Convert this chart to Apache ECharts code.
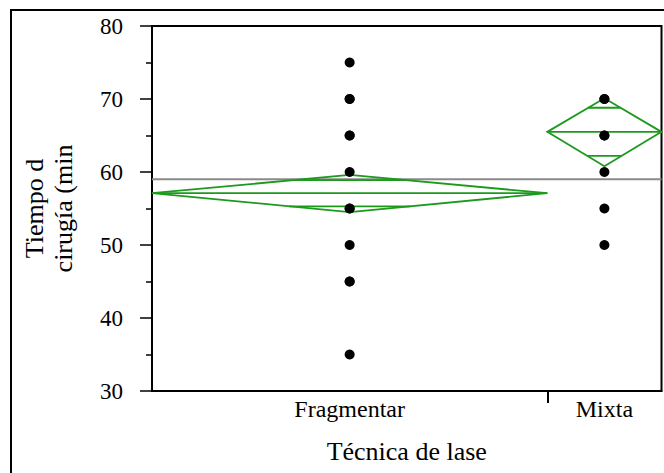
<!DOCTYPE html>
<html><head><meta charset="utf-8">
<script src="https://cdn.jsdelivr.net/npm/echarts@6/dist/echarts.min.js"></script>
<style>html,body{margin:0;padding:0;background:#fff}#c{width:664px;height:473px}</style>
</head><body><div id="c"></div>
<script>
// ---- data ----
const categories = ['Fragmentar', 'Mixta'];
const groupN = [45, 13];                       // sample sizes (set group widths)
const fragmentarValues = [75, 70, 70, 65, 65, 60, 55, 55, 50, 45, 45, 35];
const mixtaValues = [70, 70, 65, 65, 60, 55, 50];
const groupMeans = [57.1, 65.5];
const ciLower = [54.5, 60.8];
const ciUpper = [59.6, 70.1];
const overlapLower = [55.3, 62.2];
const overlapUpper = [58.9, 68.8];
const grandMean = 59.0;
const yTicks = [30, 40, 50, 60, 70, 80];
const xTitle = 'Técnica de lase';
const yTitle = 'Tiempo d\ncirugía (min';

// ---- derived layout (group bands proportional to n) ----
const total = groupN.reduce((a, b) => a + b, 0);
const starts = [], ends = [], centers = [];
let acc = 0;
groupN.forEach(n => { starts.push(acc); acc += n; ends.push(acc); centers.push((starts[starts.length-1] + acc) / 2); });
const boundaries = ends.slice(0, -1);
const groupValues = [fragmentarValues, mixtaValues];
const points = [];
groupValues.forEach((vals, i) => vals.forEach(v => points.push([centers[i], v])));
const diamonds = categories.map((c, i) => [starts[i], ends[i], groupMeans[i], ciLower[i], ciUpper[i], overlapLower[i], overlapUpper[i]]);

const SERIF = 'Liberation Serif';
const GREEN = '#1d9a1d';

const chart = echarts.init(document.getElementById('c'), null, { renderer: 'svg' });
chart.setOption({
  animation: false,
  backgroundColor: '#fff',
  textStyle: { fontFamily: SERIF, color: '#000' },
  graphic: [{
    type: 'rect', shape: { x: 11, y: 10, width: 700, height: 520 },
    style: { fill: 'none', stroke: '#000', lineWidth: 2 }, silent: true, z: 0
  }],
  grid: { left: 152, top: 26, right: 2.5, bottom: 82, show: true, borderColor: '#000', borderWidth: 2, backgroundColor: 'transparent', containLabel: false, outerBoundsMode: 'none' },
  xAxis: {
    type: 'value', min: 0, max: total,
    name: xTitle, nameLocation: 'middle', nameGap: 47,
    nameTextStyle: { fontFamily: SERIF, fontSize: 26, color: '#000' },
    axisLine: { show: true, lineStyle: { color: '#000', width: 2 } },
    axisTick: { show: true, customValues: boundaries, length: 12, lineStyle: { color: '#000', width: 2 } },
    axisLabel: {
      show: true, customValues: centers, margin: 6,
      fontFamily: SERIF, fontSize: 24, color: '#000',
      formatter: v => { let k = 0, d = Infinity; centers.forEach((c, i) => { if (Math.abs(c - v) < d) { d = Math.abs(c - v); k = i; } }); return categories[k]; }
    },
    splitLine: { show: false }
  },
  yAxis: {
    type: 'value', min: yTicks[0], max: yTicks[yTicks.length - 1], interval: yTicks[1] - yTicks[0],
    name: yTitle, nameLocation: 'middle', nameGap: 74,
    nameTextStyle: { fontFamily: SERIF, fontSize: 26, lineHeight: 29, color: '#000' },
    axisLine: { show: true, lineStyle: { color: '#000', width: 1.5 } },
    axisTick: { show: true, length: 12, lineStyle: { color: '#000', width: 1.5 } },
    minorTick: { show: true, splitNumber: 2, length: 6, lineStyle: { color: '#000', width: 1.5 } },
    axisLabel: { margin: 29, fontFamily: SERIF, fontSize: 23, color: '#000' },
    splitLine: { show: false }, minorSplitLine: { show: false }
  },
  series: [
    {
      type: 'line', data: [[0, grandMean], [total, grandMean]], symbol: 'none',
      lineStyle: { color: '#8a8a8a', width: 2 }, z: 1, silent: true
    },
    {
      type: 'custom', data: diamonds, z: 2, silent: true,
      encode: { x: [0, 1], y: [2, 3, 4] },
      renderItem: (params, api) => {
        const x0 = api.value(0), x1 = api.value(1), m = api.value(2), lo = api.value(3), hi = api.value(4), olo = api.value(5), ohi = api.value(6);
        const xc = (x0 + x1) / 2;
        const P = (x, y) => api.coord([x, y]);
        const st = { stroke: GREEN, fill: 'none', lineWidth: 1.8 };
        const mark = (yv, half) => {
          const f = 1 - Math.abs(yv - m) / half;
          const a = P(xc - f * (xc - x0), yv), b = P(xc + f * (x1 - xc), yv);
          return { type: 'line', shape: { x1: a[0], y1: a[1], x2: b[0], y2: b[1] }, style: st };
        };
        const L = P(x0, m), R = P(x1, m), T = P(xc, hi), B = P(xc, lo);
        return {
          type: 'group', children: [
            { type: 'polygon', shape: { points: [L, T, R, B] }, style: st },
            { type: 'line', shape: { x1: L[0], y1: L[1], x2: R[0], y2: R[1] }, style: st },
            mark(ohi, hi - m),
            mark(olo, m - lo)
          ]
        };
      }
    },
    {
      type: 'scatter', data: points, symbol: 'circle', symbolSize: 10,
      itemStyle: { color: '#000', opacity: 1 }, z: 3, silent: true
    }
  ]
});
</script>
</body></html>
